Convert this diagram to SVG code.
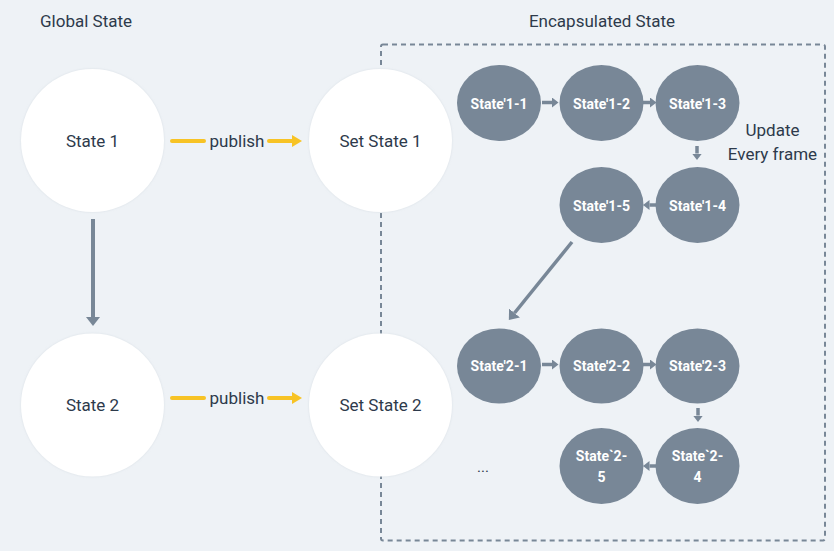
<svg xmlns="http://www.w3.org/2000/svg" width="834" height="551" viewBox="0 0 834 551">
<style>
.lbl{font-family:Roboto,"Noto Sans",sans-serif;fill:#2d3a4b;font-size:17px;text-anchor:middle}
.title{font-family:Roboto,"Noto Sans",sans-serif;fill:#2d3a4b;font-size:17px}
.wn{fill:#ffffff;filter:url(#sh)}
.gn{fill:#788797}
.gt{font-family:Roboto,"Noto Sans",sans-serif;fill:#ffffff;font-size:14px;font-weight:bold;text-anchor:middle}
.yl{stroke:#f7c325;stroke-width:4;fill:none;stroke-linecap:round}
.gl{stroke:#788797;fill:none}
</style>
<defs>
<filter id="sh" x="-10%" y="-10%" width="120%" height="120%">
<feDropShadow dx="0" dy="0" stdDeviation="1" flood-color="#c8d0d8" flood-opacity="0.6"/>
</filter>
<marker id="ya" markerUnits="userSpaceOnUse" markerWidth="10" markerHeight="12" refX="0" refY="6" orient="auto">
<path d="M0,0 L10,6 L0,12 z" fill="#f7c325"/>
</marker>
<marker id="ga" markerUnits="userSpaceOnUse" markerWidth="14" markerHeight="14" refX="0" refY="7" orient="auto">
<path d="M0,0 L9,7 L0,14 z" fill="#788797"/>
</marker>
<marker id="gs" markerUnits="userSpaceOnUse" markerWidth="7" markerHeight="10" refX="0" refY="5" orient="auto">
<path d="M0,0 L6.5,5 L0,10 z" fill="#788797"/>
</marker>
</defs>
<rect width="834" height="551" fill="#eef2f6"/>
<text class="title" x="40" y="27">Global State</text>
<text class="lbl" x="602" y="27">Encapsulated State</text>
<rect x="381" y="44.5" width="444" height="496" rx="2" fill="none" stroke="#788797" stroke-width="2" stroke-dasharray="5,4"/>

<g id="connectors">
<line class="yl" x1="172" y1="141" x2="204" y2="141"/>
<line class="yl" x1="269" y1="141" x2="292" y2="141" marker-end="url(#ya)"/>
<text class="lbl" x="237" y="147">publish</text>
<line class="yl" x1="172" y1="398" x2="204" y2="398"/>
<line class="yl" x1="269" y1="398" x2="292" y2="398" marker-end="url(#ya)"/>
<text class="lbl" x="237" y="404">publish</text>
<line class="gl" stroke-width="4" x1="93" y1="219" x2="93" y2="317" marker-end="url(#ga)"/>
<line class="gl" stroke-width="3.5" x1="572" y1="242" x2="514.5" y2="313" marker-end="url(#ga)"/>
<line class="gl" stroke-width="3.5" x1="542" y1="102.5" x2="552" y2="102.5" marker-end="url(#gs)"/>
<line class="gl" stroke-width="3.5" x1="643" y1="102.5" x2="650" y2="102.5" marker-end="url(#gs)"/>
<line class="gl" stroke-width="3.5" x1="697" y1="146" x2="697" y2="153.5" marker-end="url(#gs)"/>
<line class="gl" stroke-width="3.5" x1="656" y1="205" x2="649.5" y2="205" marker-end="url(#gs)"/>
<line class="gl" stroke-width="3.5" x1="542" y1="364.5" x2="552" y2="364.5" marker-end="url(#gs)"/>
<line class="gl" stroke-width="3.5" x1="643" y1="364.5" x2="650" y2="364.5" marker-end="url(#gs)"/>
<line class="gl" stroke-width="3.5" x1="698" y1="408" x2="698" y2="415.5" marker-end="url(#gs)"/>
<line class="gl" stroke-width="3.5" x1="656" y1="466" x2="649.5" y2="466" marker-end="url(#gs)"/>
</g>

<g id="state1"><circle class="wn" cx="92.5" cy="140.5" r="71.5"/><text class="lbl" x="92.5" y="147">State 1</text></g>
<g id="state2"><circle class="wn" cx="92.5" cy="405" r="71.5"/><text class="lbl" x="92.5" y="411">State 2</text></g>
<g id="setstate1"><circle class="wn" cx="380.5" cy="140.5" r="71.5"/><text class="lbl" x="380.5" y="147">Set State 1</text></g>
<g id="setstate2"><circle class="wn" cx="380.5" cy="405" r="71.5"/><text class="lbl" x="380.5" y="411">Set State 2</text></g>

<g id="s1-1"><ellipse class="gn" cx="499" cy="103" rx="42" ry="38"/><text class="gt" x="499" y="108.5">State'1-1</text></g>
<g id="s1-2"><ellipse class="gn" cx="601.5" cy="103" rx="42" ry="38"/><text class="gt" x="601.5" y="108.5">State'1-2</text></g>
<g id="s1-3"><ellipse class="gn" cx="697.5" cy="103" rx="42" ry="38"/><text class="gt" x="697.5" y="108.5">State'1-3</text></g>
<g id="s1-4"><ellipse class="gn" cx="697.5" cy="205" rx="42" ry="38"/><text class="gt" x="697.5" y="210.5">State'1-4</text></g>
<g id="s1-5"><ellipse class="gn" cx="601.5" cy="205" rx="42" ry="38"/><text class="gt" x="601.5" y="210.5">State'1-5</text></g>
<g id="update"><text class="lbl" x="772.5" y="136">Update</text><text class="lbl" x="772.5" y="160">Every frame</text></g>

<g id="s2-1"><ellipse class="gn" cx="499" cy="366" rx="42" ry="37.5"/><text class="gt" x="499" y="371">State'2-1</text></g>
<g id="s2-2"><ellipse class="gn" cx="601.5" cy="366" rx="42" ry="37.5"/><text class="gt" x="601.5" y="371">State'2-2</text></g>
<g id="s2-3"><ellipse class="gn" cx="697.5" cy="366" rx="42" ry="37.5"/><text class="gt" x="697.5" y="371">State'2-3</text></g>
<g id="s2-4"><ellipse class="gn" cx="697.5" cy="466" rx="42" ry="38"/><text class="gt" x="697.5" y="461">State`2-</text><text class="gt" x="697.5" y="482">4</text></g>
<g id="s2-5"><ellipse class="gn" cx="601.5" cy="466" rx="42" ry="38"/><text class="gt" x="601.5" y="461">State`2-</text><text class="gt" x="601.5" y="482">5</text></g>
<g id="ellipsis"><text class="lbl" x="483" y="472" style="font-size:15px">...</text></g>
</svg>
